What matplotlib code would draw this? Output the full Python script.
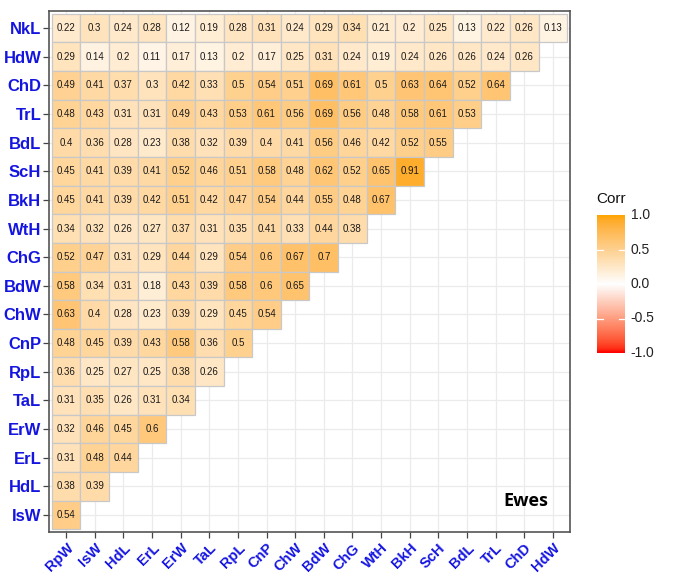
import numpy as np
import matplotlib
matplotlib.use("Agg")
import matplotlib.pyplot as plt
from matplotlib.colors import LinearSegmentedColormap
from matplotlib.transforms import ScaledTranslation


# column order along the x axis, row order from top to bottom
x_labels = ["RpW", "IsW", "HdL", "ErL", "ErW", "TaL", "RpL", "CnP", "ChW",
            "BdW", "ChG", "WtH", "BkH", "ScH", "BdL", "TrL", "ChD", "HdW"]
y_labels = ["NkL", "HdW", "ChD", "TrL", "BdL", "ScH", "BkH", "WtH", "ChG",
            "BdW", "ChW", "CnP", "RpL", "TaL", "ErW", "ErL", "HdL", "IsW"]

# correlations, one list per row (lower triangle only)
r_NkL = [0.22, 0.3, 0.24, 0.28, 0.12, 0.19, 0.28, 0.31, 0.24, 0.29, 0.34, 0.21, 0.2, 0.25, 0.13, 0.22, 0.26, 0.13]
r_HdW = [0.29, 0.14, 0.2, 0.11, 0.17, 0.13, 0.2, 0.17, 0.25, 0.31, 0.24, 0.19, 0.24, 0.26, 0.26, 0.24, 0.26]
r_ChD = [0.49, 0.41, 0.37, 0.3, 0.42, 0.33, 0.5, 0.54, 0.51, 0.69, 0.61, 0.5, 0.63, 0.64, 0.52, 0.64]
r_TrL = [0.48, 0.43, 0.31, 0.31, 0.49, 0.43, 0.53, 0.61, 0.56, 0.69, 0.56, 0.48, 0.58, 0.61, 0.53]
r_BdL = [0.4, 0.36, 0.28, 0.23, 0.38, 0.32, 0.39, 0.4, 0.41, 0.56, 0.46, 0.42, 0.52, 0.55]
r_ScH = [0.45, 0.41, 0.39, 0.41, 0.52, 0.46, 0.51, 0.58, 0.48, 0.62, 0.52, 0.65, 0.91]
r_BkH = [0.45, 0.41, 0.39, 0.42, 0.51, 0.42, 0.47, 0.54, 0.44, 0.55, 0.48, 0.67]
r_WtH = [0.34, 0.32, 0.26, 0.27, 0.37, 0.31, 0.35, 0.41, 0.33, 0.44, 0.38]
r_ChG = [0.52, 0.47, 0.31, 0.29, 0.44, 0.29, 0.54, 0.6, 0.67, 0.7]
r_BdW = [0.58, 0.34, 0.31, 0.18, 0.43, 0.39, 0.58, 0.6, 0.65]
r_ChW = [0.63, 0.4, 0.28, 0.23, 0.39, 0.29, 0.45, 0.54]
r_CnP = [0.48, 0.45, 0.39, 0.43, 0.58, 0.36, 0.5]
r_RpL = [0.36, 0.25, 0.27, 0.25, 0.38, 0.26]
r_TaL = [0.31, 0.35, 0.26, 0.31, 0.34]
r_ErW = [0.32, 0.46, 0.45, 0.6]
r_ErL = [0.31, 0.48, 0.44]
r_HdL = [0.38, 0.39]
r_IsW = [0.54]

rows = [r_NkL, r_HdW, r_ChD, r_TrL, r_BdL, r_ScH, r_BkH, r_WtH, r_ChG,
        r_BdW, r_ChW, r_CnP, r_RpL, r_TaL, r_ErW, r_ErL, r_HdL, r_IsW]


# gradient red -> white -> orange, interpolated in CIELAB like ggplot does
WHITE_XYZ = np.array([0.95047, 1.0, 1.08883])
M = np.array([[0.4124, 0.3576, 0.1805],
              [0.2126, 0.7152, 0.0722],
              [0.0193, 0.1192, 0.9505]])


def rgb_to_lab(rgb):
	c = np.asarray(rgb, float)
	lin = np.where(c <= 0.04045, c / 12.92, ((c + 0.055) / 1.055) ** 2.4)
	xyz = M @ lin / WHITE_XYZ
	f = np.where(xyz > 0.008856, np.cbrt(xyz), 7.787 * xyz + 16 / 116)
	return np.array([116 * f[1] - 16, 500 * (f[0] - f[1]), 200 * (f[1] - f[2])])


def lab_to_rgb(lab):
	fy = (lab[0] + 16) / 116
	fx = fy + lab[1] / 500
	fz = fy - lab[2] / 200
	f = np.array([fx, fy, fz])
	xyz = np.where(f ** 3 > 0.008856, f ** 3, (f - 16 / 116) / 7.787) * WHITE_XYZ
	lin = np.linalg.solve(M, xyz)
	lin = np.clip(lin, 0, 1)
	c = np.where(lin <= 0.0031308, 12.92 * lin, 1.055 * lin ** (1 / 2.4) - 0.055)
	return np.clip(c, 0, 1)


low = rgb_to_lab([1, 0, 0])
mid = rgb_to_lab([1, 1, 1])
high = rgb_to_lab([1, 0.647, 0])
steps = []
for t in np.linspace(-1, 1, 41):
	lab = mid + (low - mid) * (-t) if t < 0 else mid + (high - mid) * t
	steps.append(lab_to_rgb(lab))
cmap = LinearSegmentedColormap.from_list("corr", steps)


fig = plt.figure(figsize=(6.78, 5.74), dpi=100)
ax = fig.add_axes([49 / 678, 1 - 532 / 574, 521 / 678, 521 / 574])

n = len(x_labels)
ax.set_xlim(-0.6, n - 0.4)
ax.set_ylim(-0.6, n - 0.4)

for i in range(n):
	ax.axvline(i, color="#ebebeb", lw=0.9, zorder=0)
	ax.axhline(i, color="#ebebeb", lw=0.9, zorder=0)

for r, vals in enumerate(rows):
	y = n - 1 - r
	for c, v in enumerate(vals):
		ax.add_patch(plt.Rectangle((c - 0.5, y - 0.5), 1, 1,
			facecolor=cmap((v + 1) / 2), edgecolor="#c8c8c8", lw=0.9, zorder=2))
		ax.text(c, y, f"{v:g}", ha="center", va="center", fontsize=7,
			color="#1a1a1a", family="Liberation Sans", zorder=3)

ax.set_xticks(range(n))
ax.set_xticklabels(x_labels, rotation=45, ha="right", rotation_mode="anchor",
	fontsize=10.5, fontweight="bold", color="#1515e0", family="Liberation Sans")
# nudge the slanted labels so they sit a little right of their ticks
shift = ScaledTranslation(13 / 100, 0, fig.dpi_scale_trans)
for lab in ax.get_xticklabels():
	lab.set_transform(lab.get_transform() + shift)
ax.set_yticks(range(n))
ax.set_yticklabels(y_labels[::-1], fontsize=12, fontweight="bold",
	color="#1515e0", family="Liberation Sans")
ax.tick_params(axis="y", length=4.5, width=0.9, color="#444444", pad=1)
ax.tick_params(axis="x", length=4.5, width=0.9, color="#444444", pad=2)
for s in ax.spines.values():
	s.set_color("#555555")
	s.set_linewidth(1.2)

ax.text(16.05, 0.5, "Ewes", ha="center", va="center", fontsize=13,
	fontweight="bold", family="Open Sans", color="black", zorder=4)

# colour legend
cax = fig.add_axes([597 / 678, 1 - 353 / 574, 28 / 678, 138 / 574])
grad = np.linspace(-1, 1, 200).reshape(-1, 1)
cax.imshow(grad, cmap=cmap, vmin=-1, vmax=1, origin="lower", aspect="auto",
	extent=(0, 1, -1, 1))
for b in [-0.5, 0, 0.5]:
	cax.plot([0, 0.2], [b, b], color="white", lw=0.9)
	cax.plot([0.8, 1], [b, b], color="white", lw=0.9)
cax.set_xlim(0, 1)
cax.set_ylim(-1, 1)
cax.set_xticks([])
cax.set_yticks([])
for s in cax.spines.values():
	s.set_visible(False)
for b in [1.0, 0.5, 0.0, -0.5, -1.0]:
	cax.text(1.2, b, f"{b:.1f}", ha="left", va="center", fontsize=10,
		color="#222222", family="Liberation Sans", transform=cax.transData, clip_on=False)
fig.text(596 / 678, 1 - 199 / 574, "Corr", ha="left", va="center", fontsize=11,
	color="#111111", family="Liberation Sans")

fig.savefig("out.png", dpi=100)
